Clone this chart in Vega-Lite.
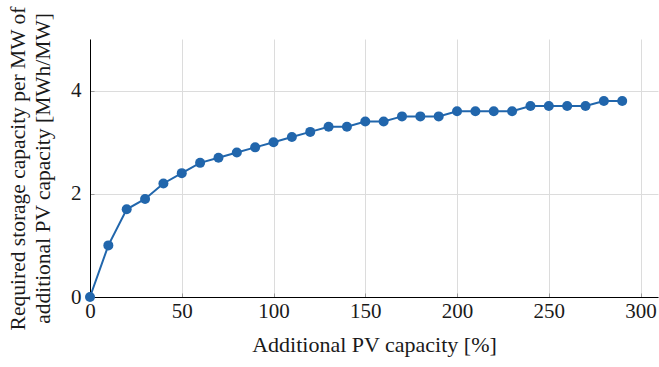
{
  "$schema": "https://vega.github.io/schema/vega-lite/v6.json",
  "width": 568,
  "height": 258,
  "autosize": {"type": "none"},
  "padding": {"left": 90, "top": 39, "right": 1, "bottom": 70},
  "background": "white",
  "config": {
    "view": {"stroke": null},
    "font": "Liberation Serif",
    "axis": {
      "labelFont": "Liberation Serif, Times New Roman, serif",
      "titleFont": "Liberation Serif",
      "labelFontSize": 21,
      "titleFontSize": 21.5,
      "labelColor": "#1a1a1a",
      "titleColor": "#1a1a1a",
      "titleFontWeight": "normal",
      "domainColor": "#000",
      "domainWidth": 1,
      "gridColor": "#dcdcdc",
      "gridWidth": 1,
      "tickColor": "#999",
      "tickSize": -4,
      "tickWidth": 1,
      "labelFlush": false
    }
  },
  "data": {
    "values": [
      {"x": 0, "y": 0}, {"x": 10, "y": 1.0}, {"x": 20, "y": 1.7}, {"x": 30, "y": 1.9},
      {"x": 40, "y": 2.2}, {"x": 50, "y": 2.4}, {"x": 60, "y": 2.6}, {"x": 70, "y": 2.7},
      {"x": 80, "y": 2.8}, {"x": 90, "y": 2.9}, {"x": 100, "y": 3.0}, {"x": 110, "y": 3.1},
      {"x": 120, "y": 3.2}, {"x": 130, "y": 3.3}, {"x": 140, "y": 3.3}, {"x": 150, "y": 3.4},
      {"x": 160, "y": 3.4}, {"x": 170, "y": 3.5}, {"x": 180, "y": 3.5}, {"x": 190, "y": 3.5},
      {"x": 200, "y": 3.6}, {"x": 210, "y": 3.6}, {"x": 220, "y": 3.6}, {"x": 230, "y": 3.6},
      {"x": 240, "y": 3.7}, {"x": 250, "y": 3.7}, {"x": 260, "y": 3.7}, {"x": 270, "y": 3.7},
      {"x": 280, "y": 3.8}, {"x": 290, "y": 3.8}
    ]
  },
  "mark": {"type": "line", "color": "#2166ac", "strokeWidth": 2, "point": {"filled": true, "size": 100, "color": "#2166ac", "opacity": 1}},
  "encoding": {
    "x": {
      "field": "x", "type": "quantitative",
      "scale": {"domain": [0, 309.5], "nice": false, "zero": false},
      "axis": {"values": [0, 50, 100, 150, 200, 250, 300], "title": "Additional PV capacity [%]", "labelPadding": 7, "titlePadding": 13, "titleFontSize": 22}
    },
    "y": {
      "field": "y", "type": "quantitative",
      "scale": {"domain": [0, 5], "nice": false},
      "axis": {"values": [0, 2, 4], "title": ["Required storage capacity per MW of", "additional PV capacity [MWh/MW]"], "labelPadding": 13, "titlePadding": 16, "titleLineHeight": 25}
    }
  }
}
